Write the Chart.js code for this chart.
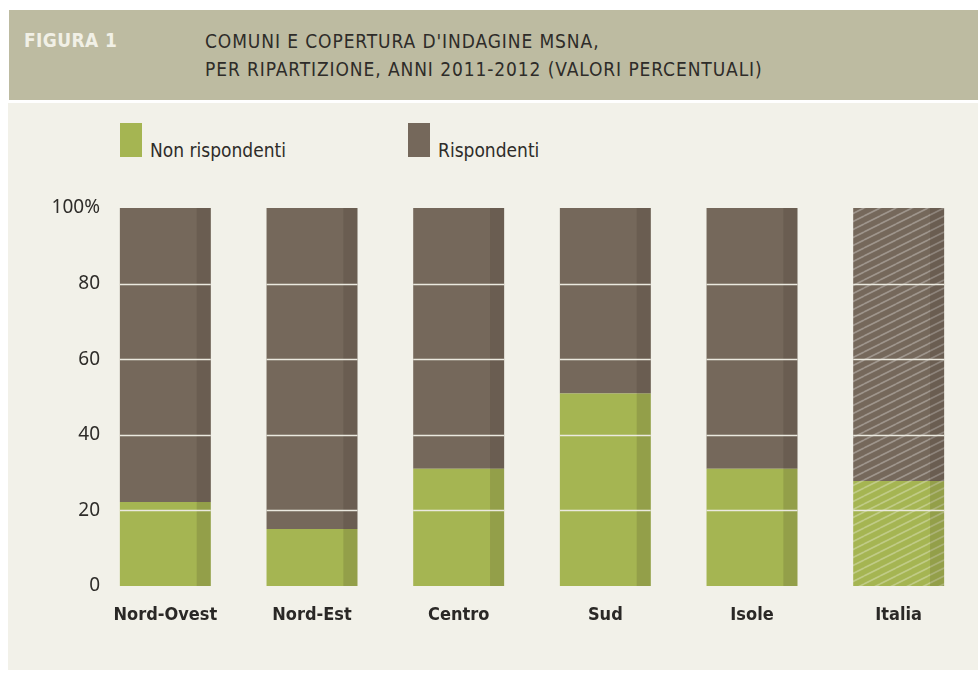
<!DOCTYPE html>
<html>
<head>
<meta charset="utf-8">
<script src="https://cdn.jsdelivr.net/npm/chart.js@4/dist/chart.umd.min.js"></script>
<style>
  html, body { margin: 0; padding: 0; background: #fff; }
  #page { position: relative; width: 978px; height: 673px; overflow: hidden; }
  #head { position: absolute; left: 9px; top: 10px; width: 969px; height: 90px; background: #bdbba1; }
  #body { position: absolute; left: 8px; top: 103px; width: 970px; height: 567px; background: #f2f1e9; }
  .cond { font-family: "DejaVu Sans Condensed", "Liberation Sans Narrow", "DejaVu Sans", sans-serif; font-stretch: condensed; }
  #fig { position: absolute; left: 24px; top: 29px; font-size: 19px; font-weight: bold; color: #f1f0e6; letter-spacing: 0.4px; }
  #title { position: absolute; left: 205px; top: 27px; font-size: 19px; line-height: 28px; color: #2e2c29; letter-spacing: 0.9px; }
  .leg { position: absolute; top: 123px; height: 34px; }
  .sw { position: absolute; left: 0; top: 0; width: 22px; height: 34px; }
  .lt { position: absolute; left: 30px; bottom: -4px; font-size: 19px; color: #2e2c29; white-space: nowrap; }
  canvas { position: absolute; left: 0; top: 0; }
</style>
</head>
<body>
<div id="page">
  <div id="head"></div>
  <div id="body"></div>
  <div id="fig" class="cond">FIGURA 1</div>
  <div id="title" class="cond">COMUNI E COPERTURA D'INDAGINE MSNA,<br>PER RIPARTIZIONE, ANNI 2011-2012 (VALORI PERCENTUALI)</div>
  <div class="leg" style="left:120px"><div class="sw" style="background:#a5b552"></div><div class="lt cond">Non rispondenti</div></div>
  <div class="leg" style="left:408px"><div class="sw" style="background:#75685b"></div><div class="lt cond">Rispondenti</div></div>
  <canvas id="c" width="978" height="673"></canvas>
</div>
<script>
// dati
const categorie = ['Nord-Ovest', 'Nord-Est', 'Centro', 'Sud', 'Isole', 'Italia'];
const nonRispondenti = [22.2, 15.1, 31.0, 50.9, 31.0, 27.8];
const rispondenti = nonRispondenti.map(v => +(100 - v).toFixed(1));
const tickY = [0, 20, 40, 60, 80, 100];

const VERDE = '#a5b552';
const MARRONE = '#75685b';
const FONT_Y = '"Noto Sans", "Open Sans", sans-serif';
const SIZE_Y = 19;

// tratteggio per la barra Italia
function tratteggio(base) {
  const t = document.createElement('canvas');
  t.width = 16; t.height = 8;
  const g = t.getContext('2d');
  g.fillStyle = base;
  g.fillRect(0, 0, 16, 8);
  g.strokeStyle = 'rgba(255,255,255,0.3)';
  g.lineWidth = 1.7;
  for (let m = -1; m <= 1; m++) {
    g.beginPath();
    g.moveTo(0, 8 + m * 8);
    g.lineTo(16, 0 + m * 8);
    g.stroke();
  }
  return g.createPattern(t, 'repeat');
}

// larghezza dell'etichetta più lunga, per allineare a destra le etichette y a x=100
const mis = document.createElement('canvas').getContext('2d');
mis.font = SIZE_Y + 'px ' + FONT_Y;
const largY = mis.measureText('100%').width;

const ctx = document.getElementById('c').getContext('2d');
const colori = (base) => categorie.map((c, i) => i === categorie.length - 1 ? tratteggio(base) : base);

// striscia scura a destra delle barre + linee della griglia sopra le barre
const decorazioni = {
  id: 'decorazioni',
  afterDatasetsDraw(chart) {
    const c = chart.ctx;
    const y = chart.scales.y;
    c.save();
    chart.data.datasets.forEach((ds, di) => {
      chart.getDatasetMeta(di).data.forEach(bar => {
        const w = bar.width;
        const top = Math.min(bar.y, bar.base), h = Math.abs(bar.base - bar.y);
        c.fillStyle = 'rgba(40,30,20,0.14)';
        c.fillRect(bar.x + w / 2 - w * 0.155, top, w * 0.155, h);
      });
    });
    const meta = chart.getDatasetMeta(0);
    c.strokeStyle = '#ebe9df';
    c.lineWidth = 1.5;
    meta.data.forEach(bar => {
      tickY.slice(1, -1).forEach(v => {
        const py = Math.round(y.getPixelForValue(v)) + 0.5;
        c.beginPath();
        c.moveTo(bar.x - bar.width / 2, py);
        c.lineTo(bar.x + bar.width / 2, py);
        c.stroke();
      });
    });
    c.restore();
  }
};

new Chart(ctx, {
  type: 'bar',
  data: {
    labels: categorie,
    datasets: [
      { label: 'Non rispondenti', data: nonRispondenti, backgroundColor: colori(VERDE), borderWidth: 0 },
      { label: 'Rispondenti', data: rispondenti, backgroundColor: colori(MARRONE), borderWidth: 0 }
    ]
  },
  options: {
    responsive: false,
    animation: false,
    layout: { padding: { top: 208, right: 6, left: 0, bottom: 0 } },
    datasets: { bar: { barPercentage: 0.62, categoryPercentage: 1 } },
    plugins: { legend: { display: false }, tooltip: { enabled: false } },
    scales: {
      x: {
        stacked: true,
        grid: { display: false, drawTicks: false },
        border: { display: false },
        ticks: {
          color: '#2a2826',
          padding: 19,
          font: { family: '"DejaVu Sans Condensed", "Liberation Sans Narrow", "DejaVu Sans", sans-serif', size: 18, weight: 'bold' }
        },
        afterFit(s) { s.height = 673 - 586; }
      },
      y: {
        stacked: true,
        min: 0, max: 100,
        afterBuildTicks(s) { s.ticks = tickY.map(v => ({ value: v })); },
        grid: { display: false, drawTicks: false },
        border: { display: false },
        ticks: {
          color: '#2e2c29',
          mirror: true,
          crossAlign: 'far',
          padding: 8 - largY,
          font: { family: FONT_Y, size: SIZE_Y },
          callback: v => v === 100 ? '100%' : v
        },
        afterFit(s) { s.width = 92; }
      }
    }
  },
  plugins: [decorazioni]
});
</script>
</body>
</html>
